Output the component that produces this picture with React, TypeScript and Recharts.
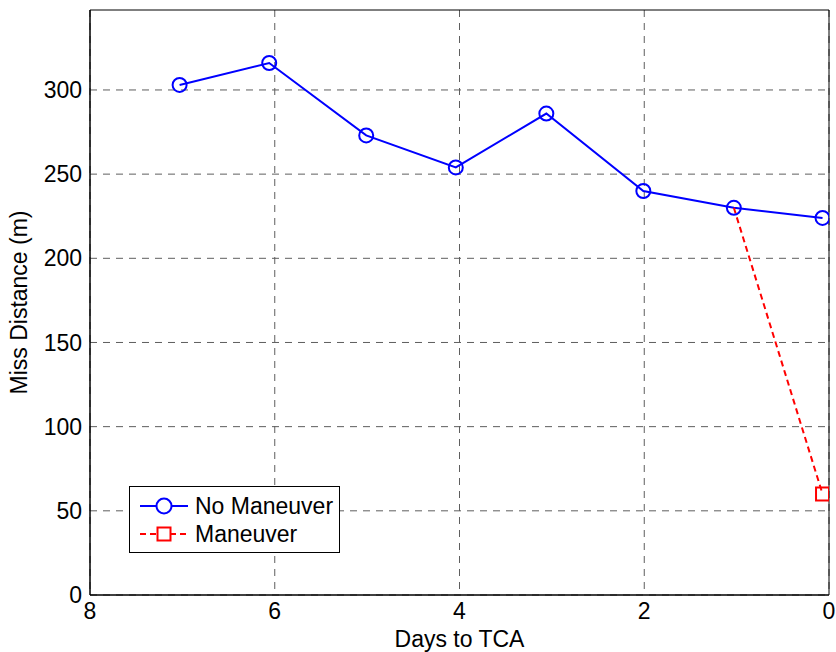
import React from 'react';
import {
  LineChart,
  Line,
  XAxis,
  YAxis,
  CartesianGrid,
  ReferenceArea,
} from 'recharts';

const noManeuverDays = [7.03, 6.06, 5.01, 4.04, 3.06, 2.01, 1.03, 0.07];
const noManeuverMiss = [303, 316, 273, 254, 286, 240, 230, 224];
const maneuverDays = [1.03, 0.07];
const maneuverMiss = [230, 60];
const xTicks = [0, 2, 4, 6, 8];
const yTicks = [0, 50, 100, 150, 200, 250, 300];
const yMax = 347.5;

const font = '"Liberation Sans", Arial, sans-serif';
const fs = 23;

const noManeuver = noManeuverDays.map((d, i) => ({ day: d, miss: noManeuverMiss[i] }));
const maneuver = maneuverDays.map((d, i) => ({ day: d, miss: maneuverMiss[i] }));

const Circle = (props: any) => {
  const { cx, cy } = props;
  if (cx == null || cy == null) return null;
  return <circle cx={cx} cy={cy} r={7} fill="none" stroke="#0000ff" strokeWidth={2} />;
};

// the maneuver branch starts on the blue curve, only its end gets a square
const Square = (props: any) => {
  const { cx, cy, index } = props;
  if (cx == null || cy == null || index === 0) return null;
  return <rect x={cx - 6.5} y={cy - 6.5} width={13} height={13} fill="none" stroke="#ff0000" strokeWidth={2} />;
};

const YLabel = (props: any) => {
  const vb = props.viewBox || {};
  const x = 19;
  const y = (vb.y ?? 10) + (vb.height ?? 585) / 2;
  return (
    <text
      x={x}
      y={y}
      transform={`rotate(-90 ${x} ${y})`}
      textAnchor="middle"
      dominantBaseline="central"
      fill="#000"
      fontSize={fs}
      fontFamily={font}
    >
      Miss Distance (m)
    </text>
  );
};

const LegendBox = () => (
  <div
    style={{
      position: 'absolute',
      left: 129,
      top: 486,
      width: 209,
      height: 65,
      border: '1px solid #000',
      background: '#fff',
      fontFamily: font,
      fontSize: fs,
      lineHeight: '24px',
    }}
  >
    <div style={{ position: 'absolute', left: 0, top: 7, display: 'flex', alignItems: 'center', height: 24 }}>
      <svg width={60} height={24} style={{ display: 'block' }}>
        <line x1={10} y1={12} x2={58} y2={12} stroke="#0000ff" strokeWidth={2} />
        <circle cx={34} cy={12} r={7.5} fill="#fff" stroke="#0000ff" strokeWidth={2} />
      </svg>
      <span style={{ marginLeft: 5 }}>No Maneuver</span>
    </div>
    <div style={{ position: 'absolute', left: 0, top: 35, display: 'flex', alignItems: 'center', height: 24 }}>
      <svg width={60} height={24} style={{ display: 'block' }}>
        <line x1={10} y1={12} x2={58} y2={12} stroke="#ff0000" strokeWidth={2} strokeDasharray="6 4" />
        <rect x={27.5} y={5.5} width={13} height={13} fill="#fff" stroke="#ff0000" strokeWidth={2} />
      </svg>
      <span style={{ marginLeft: 5 }}>Maneuver</span>
    </div>
  </div>
);

export default function App() {
  return (
    <div style={{ position: 'absolute', left: 0, top: 0, width: 836, height: 652, background: '#fff' }}>
      <LineChart width={836} height={652} margin={{ top: 10, right: 7, bottom: 0, left: 30 }}>
        <CartesianGrid
          xAxisId="bottom"
          yAxisId="left"
          stroke="#5e5e5e"
          strokeDasharray="7 6"
          horizontalValues={yTicks}
          verticalValues={xTicks}
        />
        <XAxis
          xAxisId="bottom"
          type="number"
          dataKey="day"
          domain={[0, 8]}
          reversed
          ticks={xTicks}
          allowDataOverflow
          height={57}
          axisLine={{ stroke: '#000', strokeWidth: 1 }}
          tickLine={false}
          tickSize={6}
          tickMargin={2}
          tick={{ fill: '#000', fontSize: fs, fontFamily: font }}
          label={{ value: 'Days to TCA', position: 'insideBottom', offset: 5, fill: '#000', fontSize: fs, fontFamily: font }}
        />
        <YAxis
          yAxisId="left"
          type="number"
          dataKey="miss"
          domain={[0, yMax]}
          ticks={yTicks}
          allowDataOverflow
          width={60}
          axisLine={{ stroke: '#000', strokeWidth: 1 }}
          tickLine={false}
          tickSize={6}
          tickMargin={2}
          tick={{ fill: '#000', fontSize: fs, fontFamily: font }}
          label={<YLabel />}
        />
        <ReferenceArea
          xAxisId="bottom"
          yAxisId="left"
          x1={0}
          x2={8}
          y1={0}
          y2={yMax}
          fill="none"
          stroke="#000"
          strokeWidth={1}
          ifOverflow="visible"
        />
        <Line
          xAxisId="bottom"
          yAxisId="left"
          data={noManeuver}
          dataKey="miss"
          name="No Maneuver"
          stroke="#0000ff"
          strokeWidth={2}
          dot={<Circle />}
          activeDot={false}
          isAnimationActive={false}
        />
        <Line
          xAxisId="bottom"
          yAxisId="left"
          data={maneuver}
          dataKey="miss"
          name="Maneuver"
          stroke="#ff0000"
          strokeWidth={2}
          strokeDasharray="6 4"
          dot={<Square />}
          activeDot={false}
          isAnimationActive={false}
        />
      </LineChart>
      <LegendBox />
    </div>
  );
}
